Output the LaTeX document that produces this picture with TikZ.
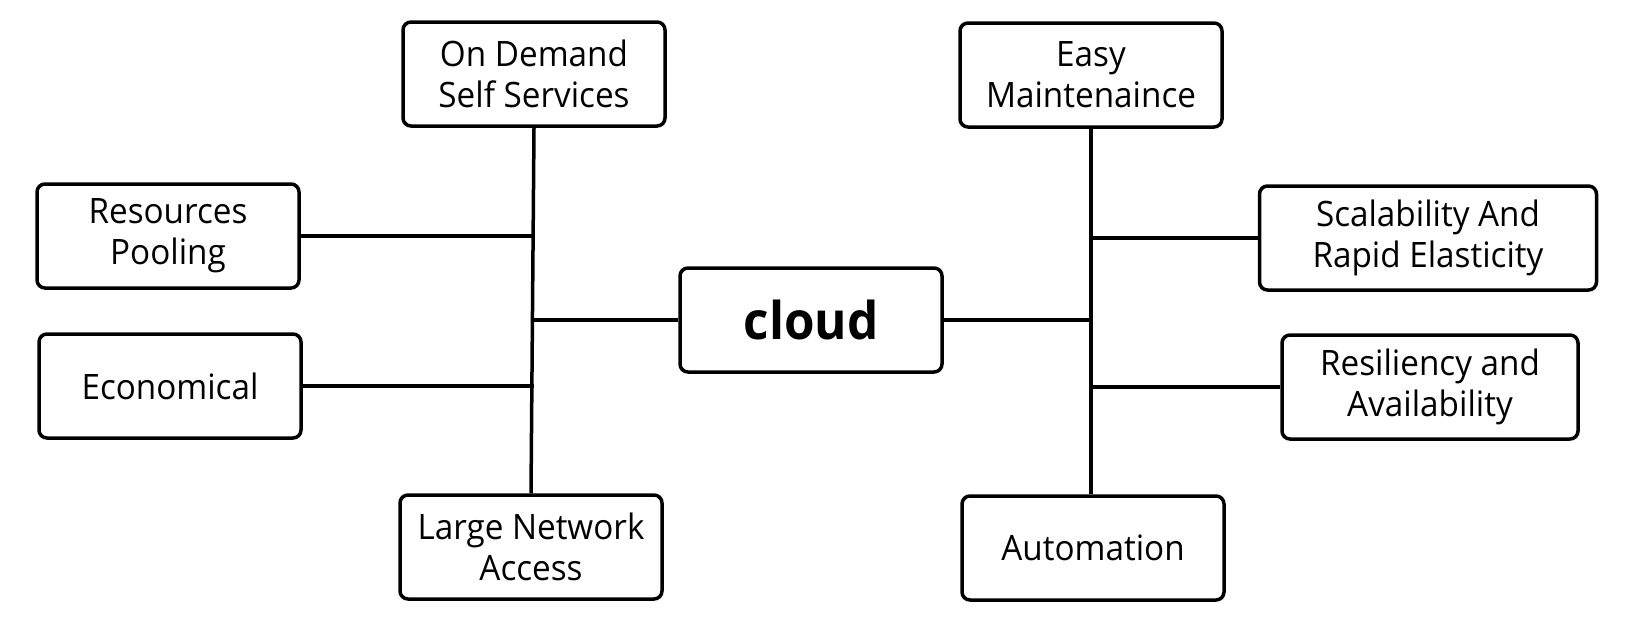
\documentclass[tikz,border=0pt]{standalone}
\usepackage{fontspec}
\setmainfont{Open Sans}[FakeStretch=0.95]
\usepackage{tikz}

\tikzset{
  box/.style={draw, line width=3.5pt, rounded corners=8pt, align=center,
    minimum width=262pt, minimum height=104pt, inner sep=0pt,
    font=\fontsize{35}{41}\selectfont},
  link/.style={line width=3.5pt}
}

\begin{document}
\begin{tikzpicture}[x=1pt, y=-1pt]
\useasboundingbox (0,0) rectangle (1649,616);

\node[box] at (811, 320) (cloud) {\fontsize{52}{56}\selectfont\bfseries cloud};

\node[box] at (534, 74) (demand) {On Demand\\Self Services};
\node[box] at (168, 236) (pool) {Resources\\Pooling};
\node[box] at (170, 386) (econ) {Economical};
\node[box] at (531, 547) (network) {Large Network\\Access};

\node[box] at (1091, 75) (maint) {Easy\\Maintenaince};
\node[box, minimum width=337pt] at (1428, 238) (scale) {Scalability And\\Rapid Elasticity};
\node[box, minimum width=296pt] at (1430, 387) (resil) {Resiliency and\\Availability};
\node[box] at (1093, 548) (auto) {Automation};

\draw[link] (demand.south) -- (network.north);
\draw[link] (pool.east) -- (pool.east -| demand.south);
\draw[link] (econ.east) -- (econ.east -| demand.south);
\draw[link] (cloud.west) -- (cloud.west -| demand.south);

\draw[link] (maint.south) -- (maint.south |- auto.north);
\draw[link] (scale.west) -- (scale.west -| maint.south);
\draw[link] (resil.west) -- (resil.west -| maint.south);
\draw[link] (cloud.east) -- (cloud.east -| maint.south);
\end{tikzpicture}
\end{document}
